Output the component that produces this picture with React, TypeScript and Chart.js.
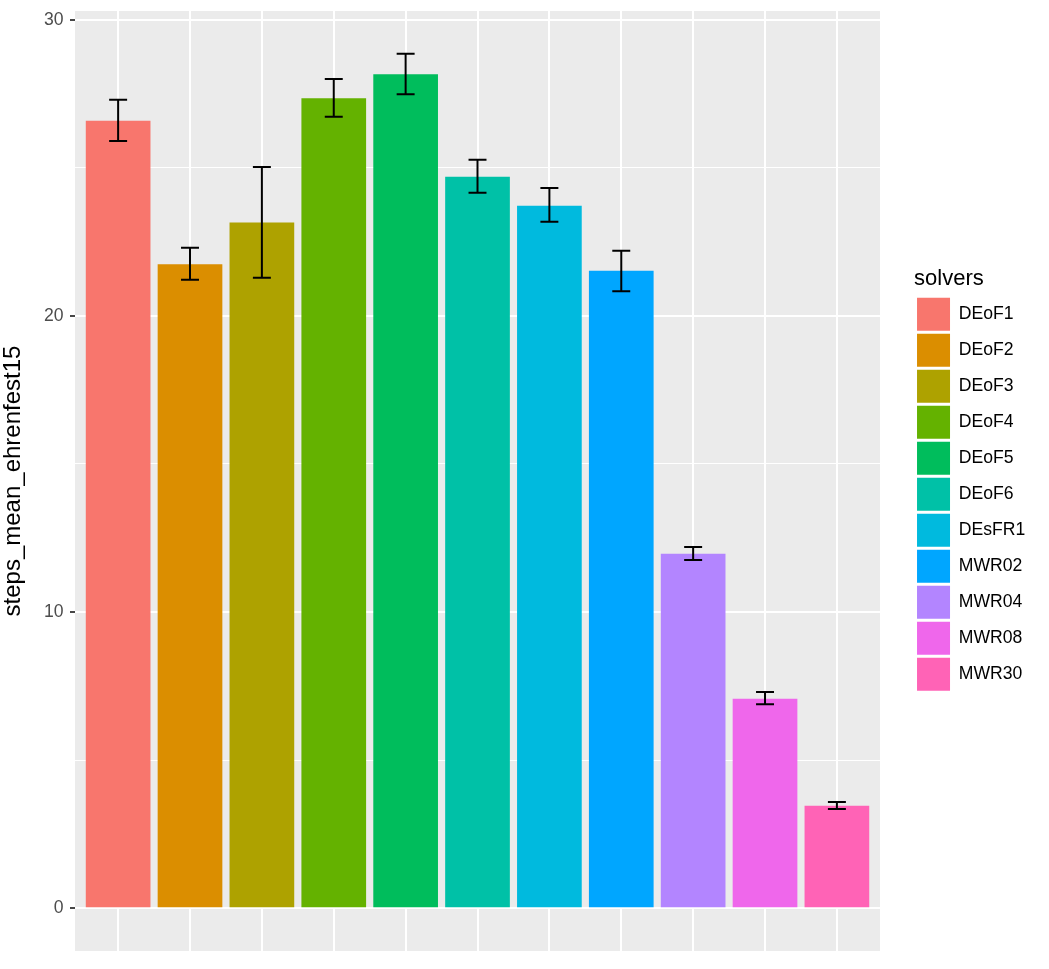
import React, { useEffect, useRef } from "react";
import { Chart, registerables } from "chart.js";

Chart.register(...registerables);

const solvers = ["DEoF1", "DEoF2", "DEoF3", "DEoF4", "DEoF5", "DEoF6", "DEsFR1", "MWR02", "MWR04", "MWR08", "MWR30"];
const meanSteps = [26.59, 21.74, 23.15, 27.35, 28.16, 24.7, 23.72, 21.52, 11.97, 7.07, 3.46];
const errLower = [25.9, 21.22, 21.29, 26.72, 27.48, 24.16, 23.18, 20.83, 11.76, 6.89, 3.35];
const errUpper = [27.3, 22.3, 25.03, 28.0, 28.85, 25.27, 24.32, 22.2, 12.2, 7.3, 3.59];
const solverColors = ["#F8766D", "#DB8E00", "#AEA200", "#64B200", "#00BD5C", "#00C1A7", "#00BADE", "#00A6FF", "#B385FF", "#EF67EB", "#FF63B6"];
const yTicks = [0, 5, 10, 15, 20, 25, 30];
const yMajorTicks = [0, 10, 20, 30];

const FONT = "'Liberation Sans', Arial, Helvetica, sans-serif";

const panelBg = {
  id: "panelBg",
  beforeDraw(chart: any) {
    const { ctx, chartArea } = chart;
    ctx.save();
    ctx.fillStyle = "#EBEBEB";
    ctx.fillRect(chartArea.left, chartArea.top, chartArea.right - chartArea.left, chartArea.bottom - chartArea.top);
    ctx.restore();
  },
};

const errorBars = {
  id: "errorBars",
  afterDatasetsDraw(chart: any) {
    const { ctx } = chart;
    const xs = chart.scales.x;
    const ys = chart.scales.y;
    ctx.save();
    ctx.strokeStyle = "#000000";
    ctx.lineWidth = 2;
    solvers.forEach((_, i) => {
      const xv = i + 1;
      const x = xs.getPixelForValue(xv);
      const x0 = xs.getPixelForValue(xv - 0.125);
      const x1 = xs.getPixelForValue(xv + 0.125);
      const yt = ys.getPixelForValue(errUpper[i]);
      const yb = ys.getPixelForValue(errLower[i]);
      ctx.beginPath();
      ctx.moveTo(x, yt);
      ctx.lineTo(x, yb);
      ctx.moveTo(x0, yt);
      ctx.lineTo(x1, yt);
      ctx.moveTo(x0, yb);
      ctx.lineTo(x1, yb);
      ctx.stroke();
    });
    ctx.restore();
  },
};

export default function App() {
  const ref = useRef<HTMLCanvasElement | null>(null);

  useEffect(() => {
    if (!ref.current) return;
    Chart.defaults.font.family = FONT;
    const chart = new Chart(ref.current, {
      type: "bar",
      data: {
        datasets: [
          {
            label: "solvers",
            data: solvers.map((_, i) => ({ x: i + 1, y: meanSteps[i] })),
            backgroundColor: solverColors,
            borderWidth: 0,
            categoryPercentage: 0.9,
            barPercentage: 1,
          },
        ],
      },
      options: {
        animation: false,
        responsive: false,
        devicePixelRatio: 1,
        events: [],
        layout: { padding: { top: 11, bottom: 18, left: 0, right: 13.7 } },
        plugins: {
          tooltip: { enabled: false },
          legend: {
            position: "right",
            align: "center",
            onClick: () => {},
            title: {
              display: true,
              text: "solvers",
              position: "start",
              color: "#000000",
              font: { size: 22, family: FONT, lineHeight: 1.2 },
              padding: 0,
            },
            labels: {
              boxWidth: 33,
              boxHeight: 33,
              padding: 3,
              color: "#000000",
              font: { size: 17.6, family: FONT },
              generateLabels: () =>
                solvers.map((s, i) => ({
                  text: s,
                  fillStyle: solverColors[i],
                  strokeStyle: "rgba(0,0,0,0)",
                  lineWidth: 0,
                  hidden: false,
                  index: i,
                  datasetIndex: 0,
                })),
            },
          },
        },
        scales: {
          x: {
            type: "linear",
            offset: false,
            min: 0.4,
            max: 11.6,
            afterBuildTicks: (s: any) => {
              s.ticks = solvers.map((_, i) => ({ value: i + 1 }));
            },
            ticks: { display: false },
            grid: { color: "#FFFFFF", lineWidth: 2, drawTicks: false, offset: false },
            border: { display: false },
            afterFit: (s: any) => {
              s.height = 0;
            },
          },
          y: {
            type: "linear",
            position: "left",
            min: -1.4425,
            max: 30.2925,
            afterBuildTicks: (s: any) => {
              s.ticks = yTicks.map((v) => ({ value: v }));
            },
            ticks: {
              padding: 6.5,
              color: "#4D4D4D",
              font: { size: 17.6, family: FONT },
              callback: (v: any) => (yMajorTicks.includes(Number(v)) ? String(v) : ""),
            },
            grid: {
              color: "#FFFFFF",
              lineWidth: (c: any) => (c.tick && yMajorTicks.includes(c.tick.value) ? 2 : 1),
              tickLength: 5,
              tickWidth: 1.8,
              tickColor: (c: any) => (c.tick && yMajorTicks.includes(c.tick.value) ? "#333333" : "rgba(0,0,0,0)"),
            },
            border: { display: false },
            title: {
              display: true,
              text: "steps_mean_ehrenfest15",
              color: "#000000",
              font: { size: 24, family: FONT, lineHeight: 1.1 },
              padding: { top: 0, bottom: 0 },
            },
            afterFit: (s: any) => {
              s.width = 75;
              s.paddingTop = 0;
              s.paddingBottom = 0;
            },
          },
          yPad: {
            type: "linear",
            position: "right",
            display: true,
            ticks: { display: false },
            grid: { display: false, drawTicks: false },
            border: { display: false },
            afterFit: (s: any) => {
              s.width = 34;
              s.paddingTop = 0;
              s.paddingBottom = 0;
            },
          },
        },
      } as any,
      plugins: [panelBg, errorBars],
    });
    return () => chart.destroy();
  }, []);

  return (
    <div style={{ position: "absolute", left: 0, top: 0, width: 1049, height: 969, background: "#FFFFFF" }}>
      <canvas ref={ref} width={1049} height={969} style={{ width: 1049, height: 969, display: "block" }} />
    </div>
  );
}
